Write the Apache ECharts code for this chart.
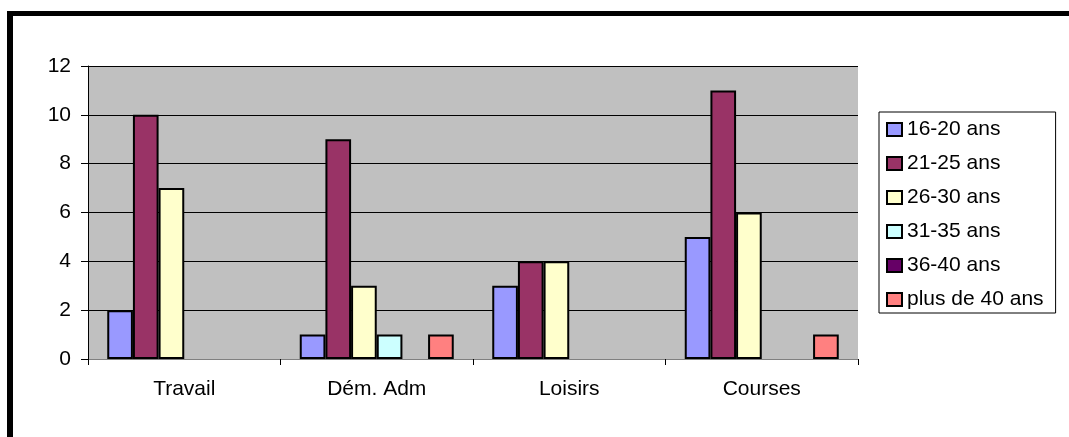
<!DOCTYPE html>
<html>
<head>
<meta charset="utf-8">
<script src="https://cdn.jsdelivr.net/npm/echarts@6/dist/echarts.min.js"></script>
<style>
    html, body { margin: 0; padding: 0; background: #fff; }
    #chart { width: 1069px; height: 437px; }
</style>
</head>
<body>
<div id="chart"></div>
<script>
// catégories et séries
const categories = ['Travail', 'Dém. Adm', 'Loisirs', 'Courses']
const ages = ['16-20 ans', '21-25 ans', '26-30 ans', '31-35 ans', '36-40 ans', 'plus de 40 ans']
const age16_20 = [2, 1, 3, 5]
const age21_25 = [10, 9, 4, 11]
const age26_30 = [7, 3, 4, 6]
const age31_35 = [0, 1, 0, 0]
const age36_40 = [0, 0, 0, 0]
const age40plus = [0, 1, 0, 1]
const yTicks = { min: 0, max: 12, interval: 2 }

const colors = ['#9999FF', '#993366', '#FFFFCC', '#CCFFFF', '#660066', '#FF8080']
const allData = [age16_20, age21_25, age26_30, age31_35, age36_40, age40plus]
const font = 'Liberation Sans, Arial, sans-serif'

let myChart = echarts.init(document.getElementById('chart'))
let option = {
    backgroundColor: '#fff',
    animation: false,
    color: colors,
    graphic: [
        // cadre noir épais en haut et à gauche
        { type: 'rect', shape: { x: 7, y: 11, width: 1062, height: 5 }, style: { fill: '#000' } },
        { type: 'rect', shape: { x: 7, y: 11, width: 6, height: 426 }, style: { fill: '#000' } }
    ],
    grid: {
        left: 88,
        top: 66,
        right: 211,
        bottom: 78,
        show: true,
        backgroundColor: '#C0C0C0',
        borderWidth: 0
    },
    legend: {
        orient: 'vertical',
        left: 879,
        top: 112,
        padding: [7, 12, 3, 7],
        itemGap: 13,
        itemWidth: 15,
        itemHeight: 13,
        icon: 'rect',
        borderColor: '#000',
        borderWidth: 1,
        backgroundColor: '#fff',
        textStyle: { fontFamily: font, fontSize: 21, color: '#000' },
        data: ages
    },
    xAxis: {
        type: 'category',
        data: categories,
        axisLine: { show: true, lineStyle: { color: '#808080', width: 1 } },
        axisTick: { show: true, length: 6, lineStyle: { color: '#000' } },
        axisLabel: { color: '#000', fontFamily: font, fontSize: 21, margin: 20 },
        splitLine: { show: false }
    },
    yAxis: {
        type: 'value',
        min: yTicks.min,
        max: yTicks.max,
        interval: yTicks.interval,
        axisLine: { show: true, lineStyle: { color: '#000', width: 1 } },
        axisTick: { show: true, length: 7, lineStyle: { color: '#000' } },
        axisLabel: { color: '#000', fontFamily: font, fontSize: 21, margin: 17 },
        splitLine: { show: true, lineStyle: { color: '#000', width: 1 } }
    },
    series: ages.map((name, i) => ({
        name: name,
        type: 'bar',
        barGap: '0%',
        barCategoryGap: '20%',
        itemStyle: { color: colors[i], borderColor: '#000', borderWidth: 2 },
        // Excel ne dessine pas les barres à zéro
        data: allData[i].map(v => (v === 0 ? null : v))
    }))
}
myChart.setOption(option)
</script>
</body>
</html>
